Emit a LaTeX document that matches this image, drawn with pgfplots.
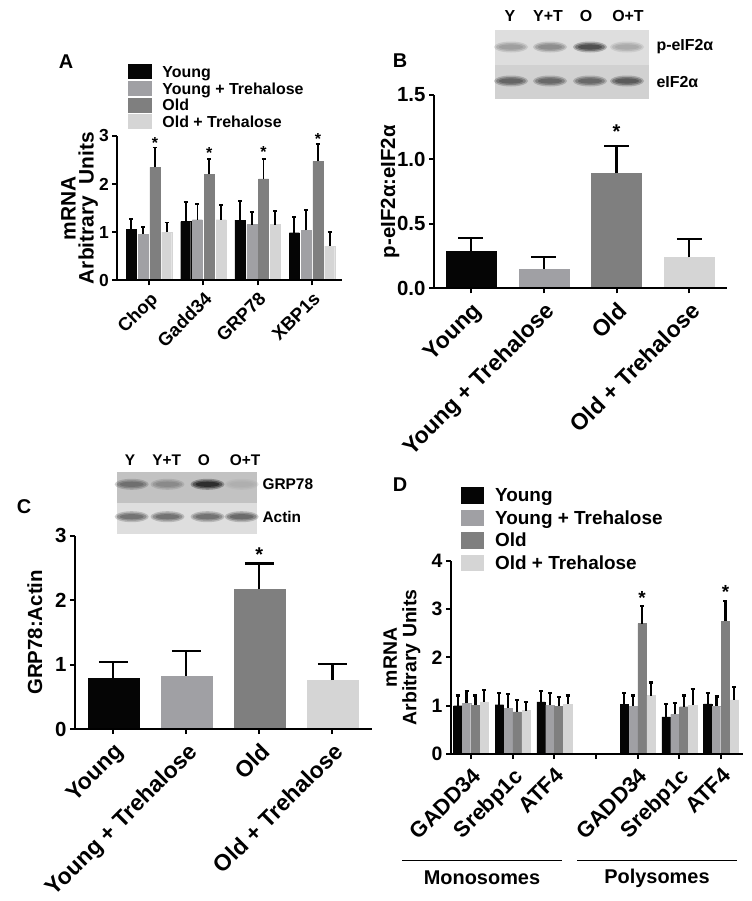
\documentclass[border=0pt]{standalone}
\usepackage{pgfplots}
\pgfplotsset{compat=1.18}
\usepackage{pgfplotstable}
\usepackage{fontspec}
\setmainfont{Liberation Sans}
\definecolor{cY}{HTML}{050505}
\definecolor{cYT}{HTML}{A0A0A4}
\definecolor{cO}{HTML}{7F7F7F}
\definecolor{cOT}{HTML}{D5D5D5}
\newcommand\fs[2]{\fontsize{#1}{#2}\selectfont\bfseries}
\newcommand\band[3]{%
  \fill[#3,opacity=.3] (#1,#2) ellipse (17 and 5.5);
  \fill[#3,opacity=.45] (#1,#2) ellipse (15 and 4);
  \fill[#3,opacity=.6] (#1,#2) ellipse (12 and 2.6);}

\pgfplotstableread{
x  y1   e1   y2   e2   y3   e3   y4   e4
0  1.06 0.21 0.96 0.14 2.35 0.41 1.00 0.20
1  1.22 0.40 1.26 0.33 2.21 0.31 1.26 0.31
2  1.25 0.40 1.16 0.26 2.11 0.41 1.16 0.28
3  0.99 0.33 1.04 0.42 2.47 0.36 0.71 0.29
}\tabA

\pgfplotstableread{
x  y1   e1   y2   e2   y3   e3   y4   e4
0  1.00 0.21 1.05 0.26 1.01 0.20 1.08 0.24
1  1.02 0.25 0.95 0.29 0.87 0.25 0.90 0.18
2  1.08 0.22 1.01 0.25 0.99 0.19 1.03 0.18
4  1.03 0.23 0.99 0.22 2.70 0.36 1.21 0.27
5  0.77 0.26 0.82 0.24 0.98 0.23 1.01 0.33
6  1.04 0.22 0.99 0.20 2.75 0.42 1.12 0.27
}\tabD

\pgfplotsset{
  gp/.style={
    scale only axis, clip=false, axis on top,
    axis x line=bottom, axis y line=left,
    axis line style={-, line width=2bp, black},
    tick align=outside, major tick length=5bp,
    tick style={line width=2bp, black},
    ymin=0,
    /pgf/number format/assume math mode=true,
    xticklabel style={rotate=45, anchor=north east, inner sep=1bp},
  },
  eb/.style 2 args={
    /pgfplots/error bars/y dir=plus,
    /pgfplots/error bars/y explicit,
    /pgfplots/error bars/error bar style={draw=black, line width=#1},
    /pgfplots/error bars/error mark options={draw=black, line width=#1, mark size=#2, rotate=90}},
}

\begin{document}
\begin{tikzpicture}
\path[use as bounding box] (0bp,0bp) rectangle (752bp,-901bp);

% ---------------- Panel A
\begin{axis}[gp, at={(117.3bp,-280.3bp)}, anchor=south west,
  width=224.4bp, height=144.3bp,
  xmin=-0.584, xmax=3.546, ymax=3, ytick={0,1,2,3}, xtick={0,1,2,3},
  xticklabels={Chop,Gadd34,GRP78,XBP1s},
  tick label style={font=\fs{17.5}{17.5}},
  xticklabel style={font=\fs{18.5}{18.5}},
  xticklabel shift=4bp,
  ylabel={mRNA\\Arbitrary\hspace{0.55em}Units},
  ylabel style={font=\fs{21}{18}, align=center, at={(axis description cs:-0.168,0.5)}, anchor=center},
  legend style={at={(axis description cs:0.049,1.499)}, anchor=north west, draw=none, fill=none,
    inner sep=0pt, row sep=0pt, font=\fs{16}{16},
    nodes={inner xsep=0pt, inner ysep=0pt, text height=13.3bp, text depth=3.4bp},
    /tikz/every odd column/.append style={column sep=10.6bp}},
  legend cell align=left,
  legend image code/.code={\fill[#1, draw=none] (0bp,-6.65bp) rectangle (23.4bp,8.35bp);},
]
\addlegendimage{fill=cY, draw=none}\addlegendentry{Young}
\addlegendimage{fill=cYT, draw=none}\addlegendentry{Young + Trehalose}
\addlegendimage{fill=cO, draw=none}\addlegendentry{Old}
\addlegendimage{fill=cOT, draw=none}\addlegendentry{Old + Trehalose}
\addplot[forget plot, ybar, bar width=0.185, bar shift=0, fill=cY, draw=cY, line width=0.3bp, eb={1.8bp}{2bp}] table[x expr=\thisrow{x}-0.3255,y=y1,y error=e1]{\tabA};
\addplot[forget plot, ybar, bar width=0.185, bar shift=0, fill=cYT, draw=cYT, line width=0.3bp, eb={1.8bp}{2bp}] table[x expr=\thisrow{x}-0.1085,y=y2,y error=e2]{\tabA};
\addplot[forget plot, ybar, bar width=0.185, bar shift=0, fill=cO, draw=cO, line width=0.3bp, eb={1.8bp}{2bp}] table[x expr=\thisrow{x}+0.1085,y=y3,y error=e3]{\tabA};
\addplot[forget plot, ybar, bar width=0.185, bar shift=0, fill=cOT, draw=cOT, line width=0.3bp, eb={1.8bp}{2bp}] table[x expr=\thisrow{x}+0.3255,y=y4,y error=e4]{\tabA};
\begin{scope}[every node/.style={font=\fs{16}{16}, inner sep=0pt, yshift=-3.5bp}]
\node at (axis cs:0.1085,2.92) {*};
\node at (axis cs:1.1085,2.71) {*};
\node at (axis cs:2.1085,2.73) {*};
\node at (axis cs:3.1085,3.02) {*};
\end{scope}
\end{axis}

% ---------------- Panel B
\begin{axis}[gp, at={(434bp,-288.3bp)}, anchor=south west,
  width=292.7bp, height=193.3bp,
  xmin=-0.508, xmax=3.513, ymax=1.5, ytick={0,0.5,1,1.5}, yticklabels={0.0,0.5,1.0,1.5},
  xtick={0,1,2,3},
  xticklabels={Young,Young + Trehalose,Old,Old + Trehalose},
  tick label style={font=\fs{20.5}{20.5}},
  xticklabel style={font=\fs{23}{23}},
  xticklabel shift=6bp,
  ylabel={p-eIF2α:eIF2α},
  ylabel style={font=\fs{20.5}{20.5}, align=center, at={(axis description cs:-0.15,0.5)}, anchor=center},
]
\addplot[ybar, bar width=0.687, bar shift=0, fill=cY, draw=cY, line width=0.3bp, eb={2.2bp}{12.5bp}] coordinates {(0,0.292) +- (0,0.101)};
\addplot[ybar, bar width=0.687, bar shift=0, fill=cYT, draw=cYT, line width=0.3bp, eb={2.2bp}{12.5bp}] coordinates {(1,0.150) +- (0,0.093)};
\addplot[ybar, bar width=0.687, bar shift=0, fill=cO, draw=cO, line width=0.3bp, eb={2.2bp}{12.5bp}] coordinates {(2,0.892) +- (0,0.215)};
\addplot[ybar, bar width=0.687, bar shift=0, fill=cOT, draw=cOT, line width=0.3bp, eb={2.2bp}{12.5bp}] coordinates {(3,0.240) +- (0,0.143)};
\node[font=\fs{20}{20}, inner sep=0pt, yshift=-4.4bp] at (axis cs:2,1.25) {*};
\end{axis}

% ---------------- Panel C
\begin{axis}[gp, at={(75bp,-729bp)}, anchor=south west,
  width=296.7bp, height=193.3bp,
  xmin=-0.525, xmax=3.539, ymax=3, ytick={0,1,2,3},
  xtick={0,1,2,3},
  xticklabels={Young,Young + Trehalose,Old,Old + Trehalose},
  tick label style={font=\fs{20.5}{20.5}},
  xticklabel style={font=\fs{23}{23}},
  xticklabel shift=6bp,
  ylabel={GRP78:Actin},
  ylabel style={font=\fs{20.5}{20.5}, align=center, at={(axis description cs:-0.135,0.5)}, anchor=center},
]
\addplot[ybar, bar width=0.694, bar shift=0, fill=cY, draw=cY, line width=0.3bp, eb={2.3bp}{14.5bp}] coordinates {(0,0.786) +- (0,0.254)};
\addplot[ybar, bar width=0.694, bar shift=0, fill=cYT, draw=cYT, line width=0.3bp, eb={2.3bp}{14.5bp}] coordinates {(1,0.828) +- (0,0.382)};
\addplot[ybar, bar width=0.694, bar shift=0, fill=cO, draw=cO, line width=0.3bp, eb={2.3bp}{14.5bp}] coordinates {(2,2.167) +- (0,0.404)};
\addplot[ybar, bar width=0.694, bar shift=0, fill=cOT, draw=cOT, line width=0.3bp, eb={2.3bp}{14.5bp}] coordinates {(3,0.760) +- (0,0.250)};
\node[font=\fs{20}{20}, inner sep=0pt, yshift=-4.4bp] at (axis cs:2,2.78) {*};
\end{axis}

% ---------------- Panel D
\begin{axis}[gp, at={(451bp,-754bp)}, anchor=south west,
  width=292.3bp, height=193.3bp,
  xmin=-0.48, xmax=6.535, ymax=4, ytick={0,1,2,3,4},
  xtick={0,1,2,3,4,5,6},
  xticklabels={GADD34,Srebp1c,ATF4,,GADD34,Srebp1c,ATF4},
  tick label style={font=\fs{19.5}{19.5}},
  xticklabel style={font=\fs{22}{22}},
  xticklabel shift=6bp,
  ylabel={mRNA\\Arbitrary Units},
  ylabel style={font=\fs{19.5}{19.5}, align=center, at={(axis description cs:-0.168,0.5)}, anchor=center},
  legend style={at={(axis description cs:0.034,1.390)}, anchor=north west, draw=none, fill=none,
    inner sep=0pt, row sep=0pt, font=\fs{19}{19},
    nodes={inner xsep=0pt, inner ysep=0pt, text height=16bp, text depth=6.6bp},
    /tikz/every odd column/.append style={column sep=10.7bp}},
  legend cell align=left,
  legend image code/.code={\fill[#1, draw=none] (0bp,-6.85bp) rectangle (23.3bp,9.85bp);},
]
\addlegendimage{fill=cY, draw=none}\addlegendentry{Young}
\addlegendimage{fill=cYT, draw=none}\addlegendentry{Young + Trehalose}
\addlegendimage{fill=cO, draw=none}\addlegendentry{Old}
\addlegendimage{fill=cOT, draw=none}\addlegendentry{Old + Trehalose}
\addplot[forget plot, ybar, bar width=0.2, bar shift=0, fill=cY, draw=cY, line width=0.3bp, eb={2.2bp}{2bp}] table[x expr=\thisrow{x}-0.3195,y=y1,y error=e1]{\tabD};
\addplot[forget plot, ybar, bar width=0.2, bar shift=0, fill=cYT, draw=cYT, line width=0.3bp, eb={2.2bp}{2bp}] table[x expr=\thisrow{x}-0.1065,y=y2,y error=e2]{\tabD};
\addplot[forget plot, ybar, bar width=0.2, bar shift=0, fill=cO, draw=cO, line width=0.3bp, eb={2.2bp}{2bp}] table[x expr=\thisrow{x}+0.1065,y=y3,y error=e3]{\tabD};
\addplot[forget plot, ybar, bar width=0.2, bar shift=0, fill=cOT, draw=cOT, line width=0.3bp, eb={2.2bp}{2bp}] table[x expr=\thisrow{x}+0.3195,y=y4,y error=e4]{\tabD};
\begin{scope}[every node/.style={font=\fs{19}{19}, inner sep=0pt, yshift=-4.2bp}]
\node at (axis cs:4.1065,3.32) {*};
\node at (axis cs:6.1065,3.43) {*};
\end{scope}
\end{axis}

% ---------------- decorations (panel letters, blots, group labels)
\begin{scope}[x=1bp, y=-1bp]
\node[font=\fs{20}{20}] at (66,62) {A};
\node[font=\fs{20}{20}] at (400,61) {B};
\node[font=\fs{20}{20}] at (24,507) {C};
\node[font=\fs{20}{20}] at (400,485) {D};

% blot B
\fill[black!13] (495,30) rectangle (649,64.5);
\fill[black!18] (495,64.5) rectangle (649,99);
\band{511}{47}{black!42}
\band{550}{47}{black!50}
\band{590}{47}{black!78}
\band{627}{47}{black!36}
\band{511}{81}{black!68}
\band{550}{81}{black!66}
\band{590}{81}{black!66}
\band{627}{81}{black!72}
\begin{scope}[every node/.style={font=\fs{16}{16}}]
\node at (510,16) {Y};
\node at (548,16) {Y+T};
\node at (586,16) {O};
\node at (628,16) {O+T};
\node[anchor=west] at (653,47) {p-eIF2α};
\node[anchor=west] at (653,82) {eIF2α};
\end{scope}

% blot C
\fill[black!24] (117.3,471.7) rectangle (256.7,503.3);
\fill[black!13] (117.3,503.3) rectangle (256.7,534.3);
\band{131.7}{484.3}{black!62}
\band{167.5}{484.3}{black!50}
\band{207.5}{484.3}{black!92}
\band{241.7}{484.3}{black!32}
\band{131.7}{516.7}{black!62}
\band{167.5}{516.7}{black!62}
\band{207.5}{516.7}{black!62}
\band{241.7}{516.7}{black!66}
\begin{scope}[every node/.style={font=\fs{15.5}{15.5}}]
\node at (130,460) {Y};
\node at (166.7,460) {Y+T};
\node at (204,460) {O};
\node at (245,460) {O+T};
\node[anchor=west] at (259,484.3) {GRP78};
\node[anchor=west] at (259,517) {Actin};
\end{scope}

% group labels D
\draw[line width=0.9bp] (402,860) -- (562,860);
\draw[line width=0.9bp] (577,860) -- (737,860);
\node[font=\fs{20}{20}] at (482,878) {Monosomes};
\node[font=\fs{20}{20}] at (657,878) {Polysomes};
\end{scope}
\end{tikzpicture}
\end{document}
